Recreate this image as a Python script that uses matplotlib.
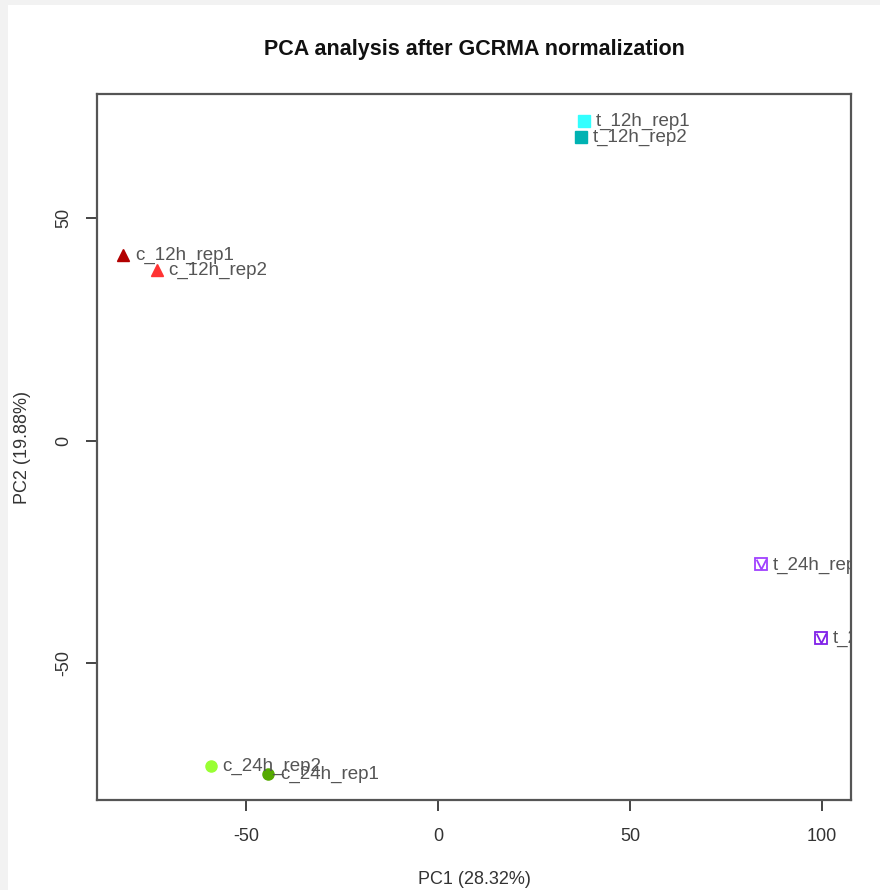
import matplotlib
matplotlib.use("Agg")
import matplotlib.pyplot as plt
from matplotlib.patches import Rectangle

plt.rcParams['font.family'] = ['Liberation Sans', 'DejaVu Sans']

samples = ["c_12h_rep1", "c_12h_rep2", "t_12h_rep1", "t_12h_rep2",
           "t_24h_rep1", "t_24h_rep2", "c_24h_rep2", "c_24h_rep1"]
pc1 = [-81.9, -73.2, 38.1, 37.2, 84.0, 99.8, -59.2, -44.2]
pc2 = [41.7, 38.3, 71.9, 68.3, -27.8, -44.3, -73.1, -74.9]
colors = ["#B20000", "#FF3333", "#33FFFF", "#00B2B2",
          "#A040FF", "#8020E8", "#99FF33", "#55AA00"]
markers = ["^", "^", "s", "s", "sq", "sq", "o", "o"]
xticks = [-50, 0, 50, 100]
yticks = [-50, 0, 50]

fig = plt.figure(figsize=(8.8, 8.9), dpi=100)
fig.patch.set_facecolor("#f2f2f2")
fig.add_artist(Rectangle((8/880, 0), 1, 1 - 5/890, transform=fig.transFigure,
                         facecolor="white", edgecolor="none", zorder=-10))

ax = fig.add_axes([97/880, 1 - 800/890, (851 - 97)/880, (800 - 94)/890])
ax.set_facecolor("white")
ax.set_xlim(-88.8, 107.55)
ax.set_ylim(-80.8, 77.9)

vmark = [(-1, 1), (0, -1), (1, 1)]
for x, y, c, m, s in zip(pc1, pc2, colors, markers, samples):
    if m == "sq":
        ax.plot([x], [y], marker="s", ms=8, mfc="none", mec=c, mew=1.3, ls="none")
        ax.plot([x], [y], marker=vmark, ms=7, mfc="none", mec=c, mew=1.3, ls="none")
    else:
        ax.plot([x], [y], marker=m, ms=8.5 if m == "^" else 8, color=c, ls="none")
    ax.annotate(s, (x, y), xytext=(8.5, -0.5), textcoords="offset points",
                ha="left", va="center", fontsize=13.5, color="#555555",
                annotation_clip=False, clip_on=True)

for sp in ax.spines.values():
    sp.set_color("#555555")
    sp.set_linewidth(1.6)

ax.set_xticks(xticks)
ax.set_yticks(yticks)
ax.set_xticklabels([str(v) for v in xticks])
ax.set_yticklabels([str(v) for v in yticks], rotation=90, va="center")
ax.tick_params(direction="out", length=8, width=1.4, color="#444444",
               labelsize=13, labelcolor="#333333", pad=12)
ax.tick_params(axis="y", pad=10)

ax.set_xlabel("PC1 (28.32%)", fontsize=13, color="#333333", labelpad=19)
ax.set_ylabel("PC2 (19.88%)", fontsize=13, color="#333333", labelpad=17)
fig.text(474/880, 1 - 50/890, "PCA analysis after GCRMA normalization",
         ha="center", va="center", fontsize=15.5, fontweight="bold", color="#111111")

fig.savefig("out.png", dpi=100, facecolor=fig.get_facecolor())
